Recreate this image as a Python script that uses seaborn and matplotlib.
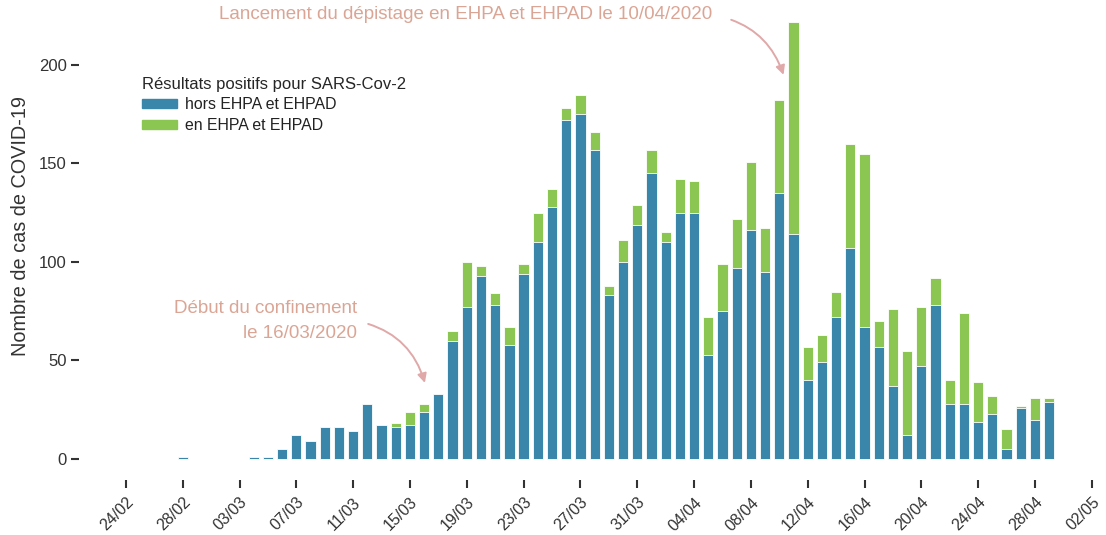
import pandas as pd
import numpy as np
import matplotlib.pyplot as plt
import seaborn as sns
from matplotlib.patches import Patch

# daily positive results, 28/02/2020 -> 29/04/2020
start = "2020-02-28"
hors_ehpad = [1, 0, 0, 0, 0, 1, 1, 5, 12, 9, 16, 16, 14, 28, 17, 16, 17, 24, 33,
              60, 77, 93, 78, 58, 94, 110, 128, 172, 175, 157, 83, 100, 119,
              145, 110, 125, 125, 53, 75, 97, 116, 95, 135, 114, 40, 49, 72,
              107, 67, 57, 37, 12, 47, 78, 28, 28, 19, 23, 5, 26, 20, 29]
en_ehpad = [0, 0, 0, 0, 0, 0, 0, 0, 0, 0, 0, 0, 0, 0, 0, 2, 7, 4, 0,
            5, 23, 5, 6, 9, 5, 15, 9, 6, 10, 9, 5, 11, 10,
            12, 5, 17, 16, 19, 24, 25, 35, 22, 47, 108, 17, 14, 13,
            53, 88, 13, 39, 43, 30, 14, 12, 46, 20, 9, 10, 1, 11, 2]
tick_start = "2020-02-24"
tick_end = "2020-05-02"

series_labels = ["hors EHPA et EHPAD", "en EHPA et EHPAD"]
legend_title = "Résultats positifs pour SARS-Cov-2"
ylabel = "Nombre de cas de COVID-19"
note_ehpad = "Lancement du dépistage en EHPA et EHPAD le 10/04/2020"
note_confinement = "Début du confinement\nle 16/03/2020"

blue = "#3a86ab"
green = "#8cc652"
note_col = "#dba595"
arrow_col = "#e0a8a8"

origin = pd.Timestamp(tick_start)
df = pd.DataFrame({
    "date": pd.date_range(start, periods=len(hors_ehpad), freq="D"),
    "hors": hors_ehpad,
    "en": en_ehpad,
})
df["day"] = (df["date"] - origin).dt.days
df["total"] = df["hors"] + df["en"]

ticks = pd.date_range(tick_start, tick_end, freq="4D")
tick_pos = (ticks - origin).days

sns.set_theme(style="white")
plt.rcParams["font.family"] = ["Liberation Sans", "DejaVu Sans"]

fig = plt.figure(figsize=(11.06, 5.35), dpi=100)
ax = fig.add_axes([79 / 1106, 55 / 535, 1027 / 1106, 480 / 535])

sns.barplot(data=df, x="day", y="total", native_scale=True, color=green,
            width=0.72, errorbar=None, edgecolor="white", linewidth=0.6,
            saturation=1, ax=ax)
sns.barplot(data=df, x="day", y="hors", native_scale=True, color=blue,
            width=0.72, errorbar=None, edgecolor="white", linewidth=0.6,
            saturation=1, ax=ax)

ax.set_xlim(-3.3, 69)
ax.set_ylim(-10.7, 233)
ax.set_xticks(tick_pos)
ax.set_xticklabels(ticks.strftime("%d/%m"), rotation=45, ha="right",
                   rotation_mode="anchor", fontsize=11.5, color="#333333")
ax.set_yticks([0, 50, 100, 150, 200])
ax.tick_params(axis="y", left=True, labelsize=12, labelcolor="#333333",
               length=5.5, width=1.5, color="#333333", pad=3.5)
ax.tick_params(axis="x", bottom=True, length=5.5, width=1.5,
               color="#333333", pad=5)
ax.set_xlabel("")
ax.set_ylabel(ylabel, fontsize=14.3, color="#333333")
ax.yaxis.set_label_coords(-0.048, 0.53)
sns.despine(ax=ax, left=True, bottom=True)

# annotations
ax.annotate(note_ehpad, xy=(46.3, 195), xytext=(41.25, 225.4),
            ha="right", va="center", fontsize=13.5, color=note_col,
            arrowprops=dict(arrowstyle="-|>,head_length=0.4,head_width=0.2",
                            color=arrow_col, lw=1.4, relpos=(1, 0.5),
                            shrinkA=12, shrinkB=0,
                            connectionstyle="arc3,rad=-0.3"))
ax.annotate(note_confinement, xy=(21.05, 38.6), xytext=(16.26, 70.0),
            ha="right", va="center", fontsize=13.5, color=note_col,
            linespacing=1.6,
            arrowprops=dict(arrowstyle="-|>,head_length=0.4,head_width=0.2",
                            color=arrow_col, lw=1.4, relpos=(1, 0.5),
                            shrinkA=6, shrinkB=0,
                            connectionstyle="arc3,rad=-0.3"))

handles = [Patch(color=blue), Patch(color=green)]
leg = ax.legend(handles, series_labels, title=legend_title, loc="upper left",
                bbox_to_anchor=(134 / 1106, 1 - 69 / 535),
                bbox_transform=fig.transFigure, frameon=False, fontsize=11.4,
                title_fontsize=12, alignment="left", borderpad=0,
                handlelength=2.2, handleheight=0.5, labelspacing=0.35,
                handletextpad=0.5)
for t in leg.get_texts():
    t.set_color("#222222")

fig.savefig("out.png", dpi=100)
